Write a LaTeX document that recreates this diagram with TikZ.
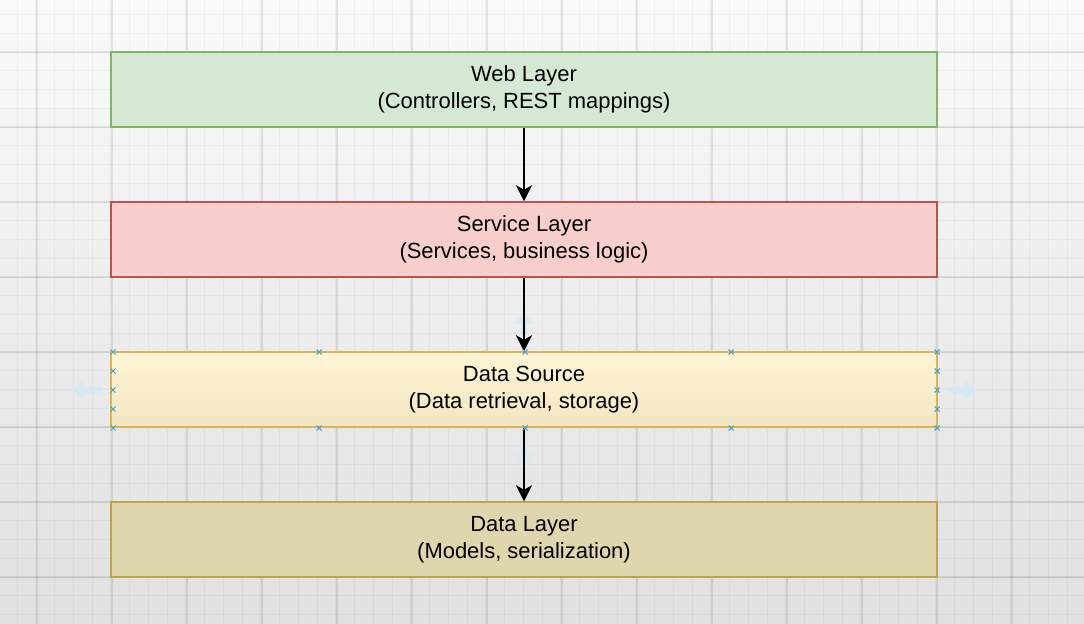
\documentclass[tikz,border=0pt]{standalone}
\usepackage{fontspec}
\setmainfont{Liberation Sans}
\usepackage{xcolor}
\usetikzlibrary{arrows.meta,positioning}

\definecolor{webfill}{HTML}{D5E8D4}
\definecolor{webline}{HTML}{82B366}
\definecolor{svcfill}{HTML}{F8CECC}
\definecolor{svcline}{HTML}{B85450}
\definecolor{srcfill}{HTML}{FFF2CC}
\definecolor{srcline}{HTML}{D6B656}
\definecolor{datafill}{RGB}{224,214,174}
\definecolor{dataline}{RGB}{192,164,76}
\definecolor{handleblue}{RGB}{70,160,205}

\begin{document}
\begin{tikzpicture}[
  x=0.02cm, y=-0.02cm,
  layer/.style={rectangle, minimum width=16.52cm, minimum height=1.5cm,
    font=\fontsize{12.5}{15.4}\selectfont, align=center, line width=0.85pt},
  flow/.style={-{Stealth[length=0.32cm, width=0.32cm, inset=0.09cm]},
    line width=0.85pt, black},
  gridminor/.style={black, opacity=0.035, line width=0.5pt},
  gridmajor/.style={black, opacity=0.09, line width=0.6pt},
  handle/.style={handleblue, line width=0.6pt},
  hint/.style={handleblue!22, line width=3.5pt, -{Triangle[length=0.22cm, width=0.36cm]}}
]

% background: page shade and editor grid
\useasboundingbox (0,0) rectangle (1084,624);
\shade[top color=white!98!black, bottom color=black!12] (0,0) rectangle (1084,624);
\foreach \k in {-4,...,58} {
  \draw[gridminor] (18.75*\k-1.75,0) -- (18.75*\k-1.75,624);
}
\foreach \k in {-2,...,34} {
  \draw[gridminor] (0,18.75*\k+14.5) -- (1084,18.75*\k+14.5);
}
\foreach \k in {0,...,14} {
  \draw[gridmajor] (75*\k+37,0) -- (75*\k+37,624);
}
\foreach \k in {0,...,8} {
  \draw[gridmajor] (0,75*\k-23) -- (1084,75*\k-23);
}

% layers
\node[layer, fill=webfill, draw=webline] (web) at (524,89.5)
  {Web Layer\\(Controllers, REST mappings)};
\node[layer, fill=svcfill, draw=svcline] (svc) at (524,239.5)
  {Service Layer\\(Services, business logic)};
\node[layer, top color=srcfill!85!white, bottom color=srcfill!95!black,
  draw=srcline] (src) at (524,389.5)
  {Data Source\\(Data retrieval, storage)};
\node[layer, fill=datafill, draw=dataline] (data) at (524,539.5)
  {Data Layer\\(Models, serialization)};

% move hints behind the connectors
\draw[hint] (524,335) -- (524,313);
\draw[hint] (524,442) -- (524,466);

% connectors
\draw[flow] (web) -- (svc);
\draw[flow] (svc) -- (src);
\draw[flow] (src) -- (data);

% selection handles on the data source
\foreach \hx in {113,319,525,731,937} {
  \draw[handle] (\hx,352) +(-2.5,-2.5) -- +(2.5,2.5) +(-2.5,2.5) -- +(2.5,-2.5);
  \draw[handle] (\hx,428) +(-2.5,-2.5) -- +(2.5,2.5) +(-2.5,2.5) -- +(2.5,-2.5);
}
\foreach \hy in {371,390,409} {
  \draw[handle] (113,\hy) +(-2.5,-2.5) -- +(2.5,2.5) +(-2.5,2.5) -- +(2.5,-2.5);
  \draw[handle] (937,\hy) +(-2.5,-2.5) -- +(2.5,2.5) +(-2.5,2.5) -- +(2.5,-2.5);
}
\draw[hint] (102,390) -- (72,390);
\draw[hint] (948,390) -- (976,390);

\end{tikzpicture}
\end{document}
